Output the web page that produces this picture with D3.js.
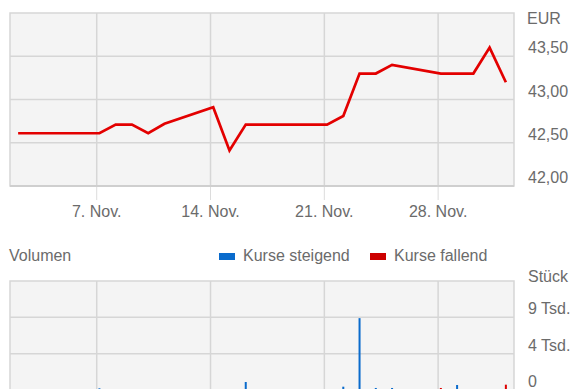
<!DOCTYPE html>
<html>
<head>
<meta charset="utf-8">
<script src="https://cdn.jsdelivr.net/npm/d3@7"></script>
<style>
  html, body { margin: 0; padding: 0; background: #fff; }
  svg { display: block; font-family: "Liberation Sans", Arial, sans-serif; }
  text { fill: #6b6b6b; font-size: 16px; }
</style>
</head>
<body>
<svg id="chart" width="573" height="389"></svg>
<script>
// Closing prices (EUR) per trading day
const priceDates = ["2022-11-02","2022-11-03","2022-11-04","2022-11-07","2022-11-08","2022-11-09",
  "2022-11-10","2022-11-11","2022-11-14","2022-11-15","2022-11-16","2022-11-17","2022-11-18",
  "2022-11-21","2022-11-22","2022-11-23","2022-11-24","2022-11-25","2022-11-28","2022-11-29",
  "2022-11-30","2022-12-01","2022-12-02"];
const priceValues = [42.61, 42.61, 42.61, 42.61, 42.71, 42.71, 42.61, 42.72, 42.91, 42.41, 42.71,
  42.71, 42.71, 42.71, 42.81, 43.30, 43.30, 43.40, 43.30, 43.30, 43.30, 43.60, 43.20];

// Traded volume (pieces); direction: "up" = Kurse steigend, "down" = Kurse fallend
const volumeDates = ["2022-11-07","2022-11-16","2022-11-22","2022-11-23","2022-11-24",
  "2022-11-25","2022-11-28","2022-11-29","2022-12-02"];
const volumeValues = [210, 990, 410, 8900, 250, 250, 250, 620, 660];
const volumeDirection = ["up","up","up","up","up","up","down","up","down"];

// Axis ticks and labels
const xTickDates = ["2022-11-07","2022-11-14","2022-11-21","2022-11-28"];
const xTickLabels = ["7. Nov.","14. Nov.","21. Nov.","28. Nov."];
const priceTicks = [42.0, 42.5, 43.0, 43.5];
const priceTickLabels = ["42,00","42,50","43,00","43,50"];
const volumeTicks = [0, 4500, 9000];
const volumeTickLabels = ["0","4 Tsd.","9 Tsd."];
const legendLabels = ["Kurse steigend","Kurse fallend"];

const parse = d3.utcParse("%Y-%m-%d");
// daily values are stamped at the session time of the trading day
const parseSession = s => d3.utcHour.offset(parse(s), 4);
const svg = d3.select("#chart");

const left = 10, right = 514;
const x = d3.scaleUtc()
  .domain([new Date(Date.UTC(2022, 10, 1, 16)), new Date(Date.UTC(2022, 11, 2, 16))])
  .range([left, right]);

const gridColor = "#d6d6d6";
const bg = "#f4f4f4";

// ---------- price panel ----------
const pTop = 13, pBottom = 186;
const y = d3.scaleLinear().domain([42, 44]).range([pBottom, pTop]);

svg.append("rect").attr("x", left).attr("y", pTop)
  .attr("width", right - left).attr("height", pBottom - pTop)
  .attr("fill", bg).attr("stroke", gridColor).attr("stroke-width", 1.5);

svg.append("g").selectAll("line").data(priceTicks.slice(1)).join("line")
  .attr("x1", left).attr("x2", right)
  .attr("y1", d => y(d)).attr("y2", d => y(d))
  .attr("stroke", gridColor).attr("stroke-width", 1.5);

svg.append("g").selectAll("line").data(xTickDates).join("line")
  .attr("x1", d => x(parse(d))).attr("x2", d => x(parse(d)))
  .attr("y1", pTop).attr("y2", pBottom)
  .attr("stroke", gridColor).attr("stroke-width", 1.5);

// tick marks under the price panel
svg.append("g").selectAll("line").data(xTickDates).join("line")
  .attr("x1", d => x(parse(d))).attr("x2", d => x(parse(d)))
  .attr("y1", pBottom).attr("y2", pBottom + 14)
  .attr("stroke", "#dcdcdc").attr("stroke-width", 1);

// bottom axis line
svg.append("line").attr("x1", left).attr("x2", right)
  .attr("y1", pBottom).attr("y2", pBottom)
  .attr("stroke", "#cfcfcf").attr("stroke-width", 2.2);

svg.append("g").selectAll("text").data(xTickDates).join("text")
  .attr("x", d => x(parse(d))).attr("y", 217)
  .attr("text-anchor", "middle")
  .text((d, i) => xTickLabels[i]);

svg.append("text").attr("x", 527).attr("y", 24).text("EUR");
svg.append("g").selectAll("text").data(priceTicks).join("text")
  .attr("x", 528).attr("y", d => y(d) - 3)
  .text((d, i) => priceTickLabels[i]);

const priceData = priceDates.map((d, i) => ({ date: parseSession(d), value: priceValues[i] }));
svg.append("path").datum(priceData)
  .attr("fill", "none").attr("stroke", "#e30000").attr("stroke-width", 2.7)
  .attr("stroke-linejoin", "miter")
  .attr("d", d3.line().x(d => x(d.date)).y(d => y(d.value)));

// ---------- volume panel ----------
svg.append("text").attr("x", 9).attr("y", 261).text("Volumen");

const legendColors = ["#0a6bcc", "#cc0000"];
const legendX = [219, 370];
legendLabels.forEach((lab, i) => {
  svg.append("rect").attr("x", legendX[i]).attr("y", 253)
    .attr("width", 16).attr("height", 7).attr("fill", legendColors[i]);
  svg.append("text").attr("x", legendX[i] + 24).attr("y", 261).text(lab);
});

const vTop = 281, vBottom = 390;
const yv = d3.scaleLinear().domain([0, 13500]).range([vBottom, vTop]);

svg.append("rect").attr("x", left).attr("y", vTop)
  .attr("width", right - left).attr("height", vBottom - vTop)
  .attr("fill", bg).attr("stroke", gridColor).attr("stroke-width", 1.5);

svg.append("g").selectAll("line").data(volumeTicks.slice(1)).join("line")
  .attr("x1", left).attr("x2", right)
  .attr("y1", d => yv(d)).attr("y2", d => yv(d))
  .attr("stroke", gridColor).attr("stroke-width", 1.5);

svg.append("g").selectAll("line").data(xTickDates).join("line")
  .attr("x1", d => x(parse(d))).attr("x2", d => x(parse(d)))
  .attr("y1", vTop).attr("y2", vBottom)
  .attr("stroke", gridColor).attr("stroke-width", 1.5);

svg.append("text").attr("x", 528).attr("y", 282).text("Stück");
svg.append("g").selectAll("text").data(volumeTicks).join("text")
  .attr("x", 528).attr("y", d => yv(d) - 3)
  .text((d, i) => volumeTickLabels[i]);

const volData = volumeDates.map((d, i) => ({ date: parseSession(d), value: volumeValues[i], dir: volumeDirection[i] }));
svg.append("g").selectAll("rect").data(volData).join("rect")
  .attr("x", d => x(d.date) - 1)
  .attr("width", 2)
  .attr("y", d => yv(d.value))
  .attr("height", d => vBottom - yv(d.value))
  .attr("fill", d => d.dir === "up" ? "#0a6bcc" : "#dd0000");
</script>
</body>
</html>
